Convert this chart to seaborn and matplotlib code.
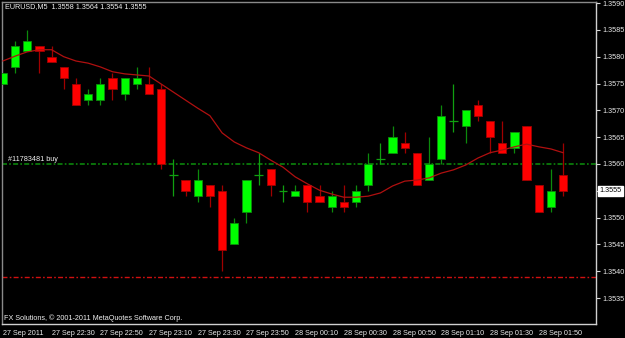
import matplotlib
matplotlib.use("Agg")
import matplotlib.pyplot as plt
import seaborn as sns
import numpy as np
import pandas as pd

# ---- data ----
opens = [1.3575, 1.3578, 1.3581, 1.3582, 1.3580, 1.3578, 1.3575, 1.3572, 1.3572, 1.3576,
         1.3573, 1.3575, 1.3575, 1.3574, 1.3558, 1.3557, 1.3554, 1.3556, 1.3555, 1.3545,
         1.3551, 1.3558, 1.3559, 1.3555, 1.3554, 1.3556, 1.3554, 1.3552, 1.3553, 1.3553,
         1.3556, 1.3561, 1.3562, 1.3564, 1.3562, 1.3557, 1.3561, 1.3568, 1.3567, 1.3571,
         1.3568, 1.3564, 1.3563, 1.3567, 1.3556, 1.3552, 1.3558]
highs = [1.3577, 1.3583, 1.3585, 1.3582, 1.3582, 1.3578, 1.3576, 1.3574, 1.3576, 1.3577,
         1.3576, 1.3578, 1.3578, 1.3575, 1.3561, 1.3557, 1.3559, 1.3556, 1.3556, 1.3550,
         1.3557, 1.3562, 1.3559, 1.3556, 1.3556, 1.3556, 1.3556, 1.3555, 1.3556, 1.3556,
         1.3562, 1.3564, 1.3567, 1.3566, 1.3562, 1.3565, 1.3571, 1.3575, 1.3570, 1.3572,
         1.3568, 1.3568, 1.3566, 1.3567, 1.3556, 1.3559, 1.3564]
lows = [1.3575, 1.3577, 1.3581, 1.3577, 1.3579, 1.3574, 1.3571, 1.3571, 1.3571, 1.3572,
        1.3572, 1.3574, 1.3573, 1.3559, 1.3554, 1.3554, 1.3553, 1.3552, 1.3540, 1.3545,
        1.3549, 1.3556, 1.3554, 1.3553, 1.3554, 1.3551, 1.3553, 1.3551, 1.3551, 1.3552,
        1.3555, 1.3560, 1.3562, 1.3562, 1.3556, 1.3557, 1.3560, 1.3566, 1.3564, 1.3568,
        1.3562, 1.3562, 1.3562, 1.3557, 1.3551, 1.3551, 1.3554]
closes = [1.3577, 1.3582, 1.3583, 1.3581, 1.3579, 1.3576, 1.3571, 1.3573, 1.3575, 1.3574,
          1.3576, 1.3576, 1.3573, 1.3560, 1.3558, 1.3555, 1.3557, 1.3554, 1.3544, 1.3549,
          1.3557, 1.3558, 1.3556, 1.3555, 1.3555, 1.3553, 1.3553, 1.3554, 1.3552, 1.3555,
          1.3560, 1.3561, 1.3565, 1.3563, 1.3556, 1.3560, 1.3569, 1.3568, 1.3570, 1.3569,
          1.3565, 1.3562, 1.3566, 1.3557, 1.3551, 1.3555, 1.3555]
moving_avg = [1.35792, 1.35801, 1.35809, 1.35813, 1.35813, 1.35800, 1.35792, 1.35788, 1.35781, 1.35772,
              1.35768, 1.35766, 1.35764, 1.35749, 1.35734, 1.35719, 1.35704, 1.35690, 1.35658, 1.35641,
              1.35630, 1.35621, 1.35607, 1.35594, 1.35576, 1.35563, 1.35551, 1.35544, 1.35538, 1.35538,
              1.35540, 1.35546, 1.35559, 1.35568, 1.35570, 1.35574, 1.35583, 1.35589, 1.35598, 1.35611,
              1.35621, 1.35626, 1.35632, 1.35637, 1.35632, 1.35628, 1.35621]
buy_level = 1.3560
stop_level = 1.3539
last_price = 1.3555
time_labels = ["27 Sep 2011", "27 Sep 22:30", "27 Sep 22:50", "27 Sep 23:10", "27 Sep 23:30",
               "27 Sep 23:50", "28 Sep 00:10", "28 Sep 00:30", "28 Sep 00:50", "28 Sep 01:10",
               "28 Sep 01:30", "28 Sep 01:50"]
price_ticks = [1.3535, 1.3540, 1.3545, 1.3550, 1.3555, 1.3560, 1.3565, 1.3570, 1.3575,
               1.3580, 1.3585, 1.3590]
title_text = "EURUSD,M5  1.3558 1.3564 1.3554 1.3555"
order_text = "#11783481 buy"
copyright_text = "FX Solutions, \u00a9 2001-2011 MetaQuotes Software Corp."

# ---- styling ----
sns.set_style("dark", {"axes.facecolor": "black", "figure.facecolor": "black"})
plt.rcParams["font.family"] = ["Liberation Sans", "DejaVu Sans"]
plt.rcParams["lines.scale_dashes"] = False
FS = 5.2

W, H = 625, 338
fig = plt.figure(figsize=(W / 100, H / 100), dpi=100, facecolor="black")
L, R, T, B = 2, 596, 2, 324
ax = fig.add_axes([L / W, 1 - B / H, (R - L) / W, (B - T) / H])
ax.set_facecolor("black")

df = pd.DataFrame({"o": opens, "h": highs, "l": lows, "c": closes, "ma": moving_avg})
df["i"] = np.arange(len(df))
up = df["c"] > df["o"]
dn = df["c"] < df["o"]
dj = df["c"] == df["o"]

UP_BODY, UP_WICK = "#00ff00", "#0c8a0c"
DN_BODY, DN_WICK = "#ff0000", "#a00000"
bw = 0.68
lw1 = 0.9

# wicks
ax.vlines(df.loc[up, "i"], df.loc[up, "l"], df.loc[up, "h"], color=UP_WICK, lw=lw1, zorder=2)
ax.vlines(df.loc[dn, "i"], df.loc[dn, "l"], df.loc[dn, "h"], color=DN_WICK, lw=lw1, zorder=2)
ax.vlines(df.loc[dj, "i"], df.loc[dj, "l"], df.loc[dj, "h"], color="#10a010", lw=lw1, zorder=2)
# bodies
ax.bar(df.loc[up, "i"], (df["c"] - df["o"])[up], bottom=df.loc[up, "o"], width=bw,
       color=UP_BODY, edgecolor=UP_WICK, linewidth=0.6, zorder=3)
ax.bar(df.loc[dn, "i"], (df["o"] - df["c"])[dn], bottom=df.loc[dn, "c"], width=bw,
       color=DN_BODY, edgecolor=DN_WICK, linewidth=0.6, zorder=3)
ax.hlines(df.loc[dj, "c"], df.loc[dj, "i"] - bw / 2, df.loc[dj, "i"] + bw / 2,
          color="#10a010", lw=lw1, zorder=3)

# moving average
sns.lineplot(data=df, x="i", y="ma", ax=ax, color="#b01010", lw=0.9, zorder=4)

# order levels
ax.axhline(buy_level, color="#0a7a0a", lw=1.3, dashes=(3.6, 1.6, 1.2, 1.6), zorder=1)
ax.axhline(stop_level, color="#d01010", lw=1.0, dashes=(3.6, 1.6, 1.2, 1.6), zorder=1)

ax.set_xlim(-0.07, 48.7)
ax.set_ylim(1.353016, 1.35902)
ax.set_xlabel("")
ax.set_ylabel("")
ax.grid(False)

# axes
ax.yaxis.tick_right()
ax.set_yticks(price_ticks)
ax.set_yticklabels(["" if abs(p - last_price) < 1e-7 else f"{p:.4f}" for p in price_ticks])
ax.set_xticks(np.arange(0, 4 * len(time_labels), 4))
ax.set_xticklabels(time_labels, ha="left")
ax.tick_params(axis="both", colors="#d8d8d8", labelcolor="#e8e8e8", labelsize=FS,
               length=3, width=0.8, direction="out", pad=1.5)
ax.tick_params(axis="x", pad=1)
for s in ["right", "bottom"]:
    ax.spines[s].set_color("#d0d0d0")
    ax.spines[s].set_linewidth(1.0)
for s in ["left", "top"]:
    ax.spines[s].set_color("#8a8a8a")
    ax.spines[s].set_linewidth(1.0)
for s in ax.spines.values():
    s.set_visible(True)

# current price box
ax.text(1.0065, last_price, f"{last_price:.4f}", transform=ax.get_yaxis_transform(),
        ha="left", va="center", fontsize=FS, color="black", zorder=10,
        bbox=dict(boxstyle="square,pad=0.2", fc="white", ec="white"))

# texts
fig.text(5 / W, 1 - 3 / H, title_text, color="#f0f0f0", fontsize=FS, ha="left", va="top")
ax.text(6 / W, buy_level + 0.00002, order_text, transform=ax.get_yaxis_transform(),
        color="#f0f0f0", fontsize=FS, ha="left", va="bottom")
fig.text(4 / W, 1 - 318 / H, copyright_text, color="#f0f0f0", fontsize=FS, ha="left", va="center")

fig.savefig("out.png", dpi=100, facecolor="black")
